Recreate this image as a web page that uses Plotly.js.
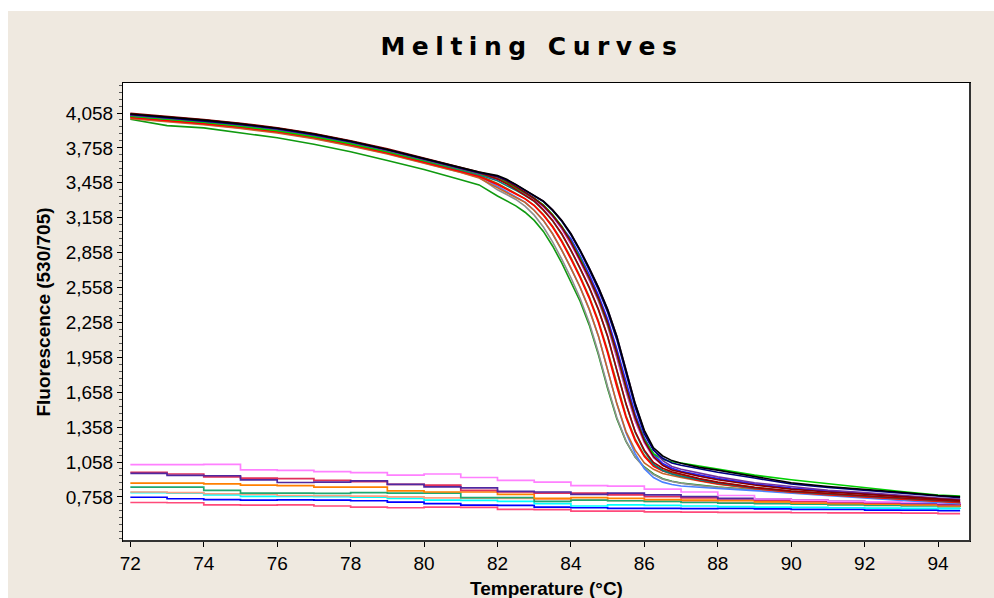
<!DOCTYPE html>
<html>
<head>
<meta charset="utf-8">
<script src="https://cdn.plot.ly/plotly-3.0.1.min.js"></script>
<style>
  html, body { margin: 0; padding: 0; background: #ffffff; width: 994px; height: 598px; overflow: hidden; }
  #chart { position: absolute; left: 8px; top: 11px; width: 986px; height: 587px; }
  .gtitle { letter-spacing: 6.5px; }
</style>
</head>
<body>
<div id="chart"></div>
<script>
// ---- Data (temperature in °C, fluorescence 530/705) ----
const temps = [72,73,74,75,76,77,78,79,80,81,81.5,82,82.25,82.5,82.75,83,83.25,83.5,83.75,84,84.25,84.5,84.75,85,85.25,85.5,85.75,86,86.25,86.5,86.75,87,87.5,88,89,90,91,92,93,94,94.6];
const tempsLow = [72,73,74,75,76,77,78,79,80,81,82,83,84,85,86,87,88,89,90,91,92,93,94,94.6];

// melting samples
const sBlack   = [4050,4025,3997,3965,3927,3877,3815,3745,3667,3587,3550,3520,3488,3445,3395,3350,3300,3225,3135,3020,2880,2725,2560,2370,2140,1850,1560,1330,1180,1110,1070,1048,1012,988,932,880,848,826,798,770,758];
const sNavy    = [4045,4018,3992,3960,3922,3872,3812,3742,3664,3585,3545,3515,3482,3440,3392,3345,3296,3220,3128,3010,2870,2710,2540,2345,2110,1820,1530,1300,1160,1090,1050,1030,1000,970,920,870,840,815,790,765,752];
const sGreen   = [4030,4005,3978,3945,3905,3855,3795,3725,3648,3570,3530,3495,3460,3418,3372,3325,3268,3185,3085,2955,2810,2640,2460,2245,1990,1700,1440,1250,1130,1080,1060,1050,1025,995,945,905,870,840,805,775,765];
const sMaroon  = [4055,4030,4002,3970,3932,3882,3820,3750,3672,3592,3550,3511,3474,3427,3377,3325,3262,3180,3078,2950,2802,2642,2465,2255,1995,1705,1440,1240,1105,1030,990,970,935,905,860,825,800,782,760,740,728];
const sDarkRed = [4048,4025,3997,3965,3927,3877,3815,3745,3667,3587,3545,3490,3450,3402,3355,3302,3225,3135,3020,2880,2725,2560,2370,2140,1850,1560,1320,1160,1055,1005,975,955,915,885,840,808,785,768,748,728,718];
const sBlue    = [4035,4012,3985,3952,3914,3864,3802,3732,3655,3575,3535,3492,3459,3418,3372,3325,3262,3180,3078,2975,2830,2670,2490,2285,2030,1740,1470,1265,1125,1045,1005,978,945,915,870,835,810,790,765,742,730];
const sPurple  = [4040,4015,3988,3956,3918,3868,3806,3736,3658,3578,3538,3508,3478,3440,3395,3350,3300,3225,3135,3020,2880,2725,2560,2370,2140,1850,1560,1320,1165,1070,1020,995,960,930,880,845,815,795,770,748,738];
const sRed     = [4020,3995,3967,3935,3897,3847,3785,3715,3637,3555,3512,3444,3402,3362,3320,3262,3180,3078,2950,2802,2642,2465,2255,1995,1705,1440,1240,1105,1020,980,955,935,900,872,830,800,778,760,740,720,710];
const sSienna  = [4010,3985,3957,3925,3887,3837,3775,3705,3627,3547,3500,3415,3375,3335,3290,3220,3135,3020,2880,2725,2560,2370,2140,1850,1560,1320,1160,1050,995,960,940,925,895,868,828,798,776,758,738,718,708];
const sTeal    = [4032,4008,3980,3948,3910,3860,3798,3728,3650,3570,3528,3476,3438,3393,3348,3298,3222,3132,3016,2876,2720,2555,2365,2135,1845,1555,1315,1150,1040,985,955,935,905,878,836,806,784,766,746,726,716];
const sCorn    = [4025,4000,3972,3940,3902,3852,3790,3720,3642,3562,3518,3430,3385,3340,3292,3222,3135,3020,2880,2725,2560,2370,2140,1850,1560,1310,1130,1000,925,885,865,852,840,830,812,790,770,748,728,710,700];
const sGray    = [4015,3990,3962,3930,3892,3842,3780,3710,3632,3550,3505,3398,3357,3315,3258,3180,3078,2950,2802,2642,2465,2255,1995,1705,1440,1240,1100,1010,950,910,890,875,855,840,818,795,775,755,735,715,705];
const sDkGreen = [4005,3950,3930,3890,3845,3790,3725,3650,3572,3485,3440,3345,3302,3260,3205,3135,3040,2915,2770,2610,2440,2235,1980,1690,1430,1235,1100,1015,955,915,892,878,858,842,820,798,778,758,738,718,708];
const sBrown   = [4028,4003,3975,3943,3905,3855,3793,3723,3645,3563,3520,3452,3410,3368,3322,3265,3185,3085,2960,2815,2655,2478,2270,2015,1725,1455,1255,1115,1030,990,965,945,910,882,838,806,782,764,744,724,712];
const sMagenta = [4040,4015,3987,3955,3917,3867,3805,3735,3657,3577,3535,3490,3455,3412,3366,3318,3252,3168,3062,2932,2783,2620,2440,2225,1955,1665,1410,1225,1095,1030,995,972,938,910,865,830,805,786,764,742,730];

// negative samples (flat)
const nViolet  = [1035,1035,1038,990,986,975,966,945,955,925,900,885,855,850,825,800,770,740,730,720,715,710,705,700];
const nPurple  = [960,943,940,905,882,885,895,865,845,835,805,800,780,790,775,760,745,740,730,720,715,705,700,695];
const nCrimson = [970,955,930,920,915,900,890,865,860,815,800,790,790,775,760,750,740,730,720,710,705,700,690,685];
const nOrange  = [876,876,870,860,855,842,842,810,800,800,780,745,752,745,735,730,725,715,705,700,695,690,680,675];
const nSeaGrn  = [842,842,815,790,790,788,795,790,790,752,752,720,730,725,720,710,705,700,695,690,685,680,675,672];
const nSalmon  = [800,795,785,780,770,768,765,758,750,748,745,738,730,725,720,715,710,705,700,697,695,692,690,688];
const nCyan    = [795,790,775,762,762,760,755,745,730,728,720,700,680,690,685,680,675,670,668,665,662,660,658,655];
const nBlue    = [755,742,735,730,732,730,725,713,700,688,685,670,665,660,660,658,660,655,650,650,645,645,640,640];
const nHotPink = [710,708,690,688,690,680,670,665,670,668,650,648,635,635,630,628,625,625,622,620,620,618,615,615];

// axis ticks
const xTickVals = [72,74,76,78,80,82,84,86,88,90,92,94];
const xTickText = ['72','74','76','78','80','82','84','86','88','90','92','94'];
const yTickVals = [758,1058,1358,1658,1958,2258,2558,2858,3158,3458,3758,4058];
const yTickText = ['0,758','1,058','1,358','1,658','1,958','2,258','2,558','2,858','3,158','3,458','3,758','4,058'];

// ---- Traces ----
const lowSeries = [
  [nHotPink,'#ff4a7a'],[nBlue,'#0000ff'],[nCyan,'#00ffff'],[nSalmon,'#ffa080'],
  [nSeaGrn,'#20a870'],[nOrange,'#ff8000'],[nCrimson,'#e0305a'],[nPurple,'#5028a0'],[nViolet,'#ff80ff']
];
const highSeries = [
  [sDkGreen,'#109a10'],[sGray,'#909090'],[sCorn,'#4a80ff'],[sSienna,'#c86428'],[sBrown,'#a05a00'],
  [sRed,'#ff0000'],[sTeal,'#008080'],[sMagenta,'#c040c0'],[sBlue,'#2020ff'],[sGreen,'#00d000'],
  [sPurple,'#7030a0'],[sDarkRed,'#a00000'],[sMaroon,'#800000'],[sNavy,'#000080'],[sBlack,'#000000']
];
const traces = [];
lowSeries.forEach(([y,c]) => traces.push({x: tempsLow, y: y, type:'scatter', mode:'lines',
  line:{color:c, width:1.7, shape:'hv'}, hoverinfo:'skip'}));
highSeries.forEach(([y,c]) => traces.push({x: temps, y: y, type:'scatter', mode:'lines',
  line:{color:c, width:1.6}, hoverinfo:'skip'}));

const tickFont = {family:'Liberation Sans, Arial, sans-serif', size:19, color:'#000'};
const axTitleFont = {family:'Liberation Sans, Arial, sans-serif', size:19, color:'#000'};
const layout = {
  width: 986, height: 587,
  paper_bgcolor: '#efe9e0',
  plot_bgcolor: '#ffffff',
  showlegend: false,
  hovermode: false,
  margin: {l:115, r:24, t:72, b:57, pad:0},
  title: {text:'<b>Melting Curves</b>', font:{family:'DejaVu Sans, sans-serif', size:25, color:'#000'},
          xref:'container', x:0.5314, xanchor:'center', yref:'container', y:0.94, yanchor:'middle'},
  xaxis: {
    range:[71.8, 94.87], tickmode:'array', tickvals:xTickVals, ticktext:xTickText,
    ticks:'outside', ticklen:5, tickcolor:'#000', tickwidth:1,
    showgrid:false, zeroline:false, showline:true, linecolor:'#000', linewidth:1, mirror:true,
    tickfont: tickFont
  },
  yaxis: {
    range:[379, 4316], tickmode:'array', tickvals:yTickVals, ticktext:yTickText,
    ticks:'outside', ticklen:5, tickcolor:'#000', tickwidth:1,
    minor:{tickmode:'linear', tick0:758, dtick:60, ticks:'outside', ticklen:3, tickcolor:'#555', showgrid:false},
    showgrid:false, zeroline:false, showline:true, linecolor:'#000', linewidth:1, mirror:true,
    tickfont: tickFont,
    title:{text:'<b>Fluorescence (530/705)</b>', font: axTitleFont, standoff:10}
  },
  annotations: [
    {text:'<b>Temperature (°C)</b>', font: axTitleFont, xref:'paper', x:0.5, xanchor:'center',
     yref:'paper', y:-0.077, yanchor:'top', showarrow:false}
  ],
  shapes: [
    {type:'line', xref:'paper', yref:'paper', x0:1, x1:1, y0:0, y1:1, line:{color:'#333', width:2}},
    {type:'line', xref:'paper', yref:'paper', x0:0, x1:1, y0:0, y1:0, line:{color:'#333', width:2}}
  ]
};
Plotly.newPlot('chart', traces, layout, {staticPlot:true, displayModeBar:false});
</script>
</body>
</html>
